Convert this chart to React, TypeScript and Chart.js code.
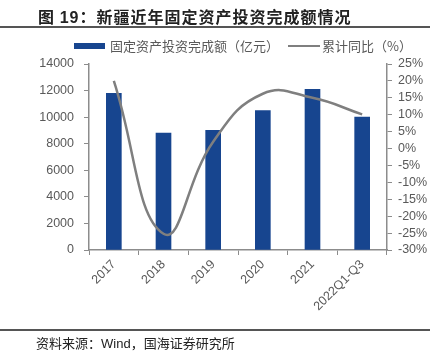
import React, { useEffect, useRef } from "react";
import { Chart, registerables } from "chart.js";

Chart.register(...registerables);

const categories = ["2017", "2018", "2019", "2020", "2021", "2022Q1-Q3"];
const investment = [11800, 8800, 9000, 10500, 12100, 10000];
const growth = [20.0, -25.2, 2.0, 16.2, 15.0, 10.1];

const barColor = "#17458F";
const lineColor = "#7F7F7F";
const textColor = "#595959";
const axisColor = "#8C8C8C";
const tickFont = { family: "'Liberation Sans', Arial, sans-serif", size: 12.5 };

export default function App() {
  const ref = useRef<HTMLCanvasElement>(null);
  useEffect(() => {
    document.body.style.margin = "0";
    const chart = new Chart(ref.current as HTMLCanvasElement, {
      type: "bar",
      data: {
        labels: categories,
        datasets: [
          {
            type: "line",
            label: "累计同比（%）",
            data: growth,
            yAxisID: "y1",
            borderColor: lineColor,
            backgroundColor: lineColor,
            borderWidth: 2.5,
            pointRadius: 0,
            tension: 0.45,
            order: 0,
          },
          {
            type: "bar",
            label: "固定资产投资完成额（亿元）",
            data: investment,
            yAxisID: "y",
            backgroundColor: barColor,
            barThickness: 15,
            order: 1,
          },
        ],
      },
      options: {
        animation: false,
        responsive: false,
        layout: { padding: { top: 64, left: 0, right: 0, bottom: 0 } },
        plugins: { legend: { display: false }, tooltip: { enabled: false } },
        scales: {
          x: {
            offset: true,
            grid: {
              offset: true,
              drawOnChartArea: false,
              drawTicks: true,
              tickLength: 5,
              color: axisColor,
            },
            border: { color: axisColor, width: 1.5 },
            ticks: {
              color: textColor,
              font: tickFont,
              maxRotation: 45,
              minRotation: 45,
              padding: 2,
              autoSkip: false,
            },
            afterFit: (s: any) => {
              s.height = 112;
            },
          },
          y: {
            position: "left",
            min: 0,
            max: 14000,
            grid: { drawOnChartArea: false, tickLength: 5, color: axisColor },
            border: { color: axisColor, width: 1.5 },
            ticks: {
              stepSize: 2000,
              color: textColor,
              font: tickFont,
              padding: 10,
              autoSkip: false,
              callback: (v: any) => String(v),
            },
            afterFit: (s: any) => {
              s.width = 89;
            },
          },
          y1: {
            position: "right",
            min: -30,
            max: 25,
            grid: { drawOnChartArea: false, tickLength: 5, color: axisColor },
            border: { color: axisColor, width: 1.5 },
            ticks: {
              stepSize: 5,
              color: textColor,
              font: tickFont,
              padding: 6,
              autoSkip: false,
              callback: (v: any) => v + "%",
            },
            afterFit: (s: any) => {
              s.width = 55;
            },
          },
        },
      },
    });
    return () => chart.destroy();
  }, []);

  const cjk = "'Noto Sans CJK SC', 'Liberation Sans', sans-serif";
  return (
    <div style={{ position: "absolute", left: 0, top: 0, width: 442, height: 362, background: "#fff" }}>
      <canvas ref={ref} width={442} height={362} style={{ position: "absolute", left: 0, top: 0 }} />
      <div
        style={{
          position: "absolute",
          left: 38,
          top: 6,
          fontFamily: cjk,
          fontWeight: "bold",
          fontSize: 16,
          lineHeight: "20px",
          letterSpacing: 1,
          color: "#222",
          whiteSpace: "nowrap",
        }}
      >
        图 <span style={{ fontFamily: "'Liberation Sans', Arial, sans-serif" }}>19</span>：新疆近年固定资产投资完成额情况
      </div>
      <div style={{ position: "absolute", left: 0, top: 26, width: 430, height: 1.5, background: "#555" }} />
      <div style={{ position: "absolute", left: 74, top: 43, width: 31, height: 6, background: barColor }} />
      <div
        style={{
          position: "absolute",
          left: 110,
          top: 37,
          fontFamily: cjk,
          fontSize: 13,
          lineHeight: "18px",
          color: textColor,
          whiteSpace: "nowrap",
        }}
      >
        固定资产投资完成额（亿元）
      </div>
      <div style={{ position: "absolute", left: 288, top: 45, width: 32, height: 2, background: lineColor }} />
      <div
        style={{
          position: "absolute",
          left: 322,
          top: 37,
          fontFamily: cjk,
          fontSize: 13,
          lineHeight: "18px",
          color: textColor,
          whiteSpace: "nowrap",
        }}
      >
        累计同比（%）
      </div>
      <div style={{ position: "absolute", left: 0, top: 329, width: 430, height: 1.5, background: "#555" }} />
      <div
        style={{
          position: "absolute",
          left: 36,
          top: 334,
          fontFamily: cjk,
          fontSize: 13,
          lineHeight: "18px",
          color: "#222",
          whiteSpace: "nowrap",
        }}
      >
        资料来源：<span style={{ fontFamily: "'Liberation Sans', Arial, sans-serif" }}>Wind</span>，国海证券研究所
      </div>
    </div>
  );
}
